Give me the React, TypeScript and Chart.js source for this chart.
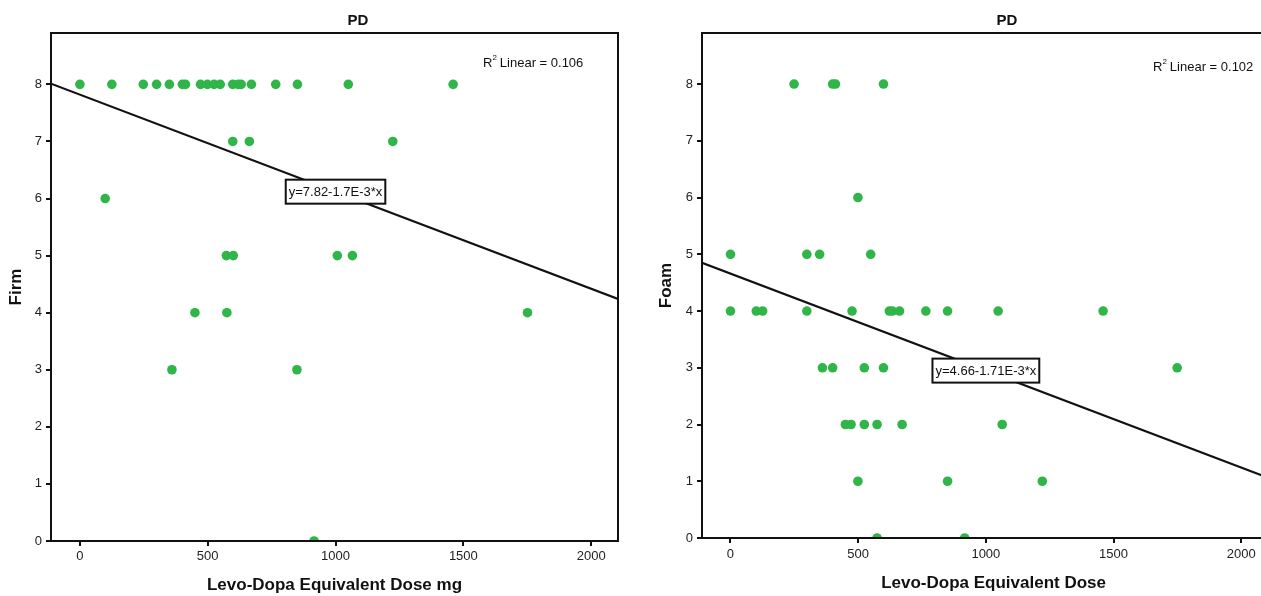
import { useEffect, useRef } from 'react';
import { Chart, registerables } from 'chart.js';

Chart.register(...registerables);

// ---- Data ----
const firmDose = [
  0, 125, 248, 300, 350, 401, 413, 472, 499, 525, 549, 598, 619, 631, 671, 766, 851, 1050, 1460,
  598, 663, 1224,
  99,
  573, 600, 1007, 1066,
  450, 575, 1751,
  360, 849,
  916,
];
const firmScore = [
  8, 8, 8, 8, 8, 8, 8, 8, 8, 8, 8, 8, 8, 8, 8, 8, 8, 8, 8,
  7, 7, 7,
  6,
  5, 5, 5, 5,
  4, 4, 4,
  3, 3,
  0,
];

const foamDose = [
  249, 400, 411, 599,
  499,
  0, 299, 349, 549,
  0, 101, 126, 299, 476, 622, 634, 662, 765, 850, 1048, 1459,
  360, 400, 524, 599, 1749,
  450, 472, 524, 574, 672, 1064,
  499, 850, 1221,
  574, 917,
];
const foamScore = [
  8, 8, 8, 8,
  6,
  5, 5, 5, 5,
  4, 4, 4, 4, 4, 4, 4, 4, 4, 4, 4, 4,
  3, 3, 3, 3, 3,
  2, 2, 2, 2, 2, 2,
  1, 1, 1,
  0, 0,
];

const xTickValues = [0, 500, 1000, 1500, 2000];
const yTickValues = [0, 1, 2, 3, 4, 5, 6, 7, 8];

const firmIntercept = 7.82;
const firmSlope = -0.0017;
const foamIntercept = 4.66;
const foamSlope = -0.00171;

const firmR2 = '0.106';
const foamR2 = '0.102';

const chartTitle = 'PD';
const firmXTitle = 'Levo-Dopa Equivalent Dose mg';
const foamXTitle = 'Levo-Dopa Equivalent Dose';
const firmYTitle = 'Firm';
const foamYTitle = 'Foam';
const firmEq = 'y=7.82-1.7E-3*x';
const foamEq = 'y=4.66-1.71E-3*x';
const eqAtX = 1000;

const FONT = '"Liberation Sans", Arial, Helvetica, sans-serif';
const GREEN = '#2fb548';
const H = 596;

type Spec = {
  canvasW: number;
  plotLeft: number;
  plotRight: number;
  plotTop: number;
  plotBottom: number;
  xMin: number;
  xMax: number;
  yMax: number;
  xs: number[];
  ys: number[];
  intercept: number;
  slope: number;
  xTitle: string;
  yTitle: string;
  yTitlePadTop: number;
  xTitlePadBottom: number;
  xTickPad: number;
  titleX: number;
  r2: string;
  r2X: number;
  r2Y: number;
  eq: string;
};

function makeChart(canvas: HTMLCanvasElement, s: Spec) {
  const deco = {
    id: 'deco',
    afterDraw(chart: any) {
      const ctx = chart.ctx as CanvasRenderingContext2D;
      const a = chart.chartArea;
      ctx.save();
      // frame
      ctx.strokeStyle = '#111';
      ctx.lineWidth = 2;
      ctx.strokeRect(a.left, a.top, a.right - a.left, a.bottom - a.top);

      // title
      ctx.fillStyle = '#111';
      ctx.font = `bold 15px ${FONT}`;
      ctx.textAlign = 'center';
      ctx.textBaseline = 'middle';
      ctx.fillText(chartTitle, s.titleX, 21);

      // R² Linear
      ctx.textAlign = 'left';
      ctx.font = `13px ${FONT}`;
      let x = s.r2X;
      ctx.fillText('R', x, s.r2Y);
      x += ctx.measureText('R').width;
      ctx.font = `8px ${FONT}`;
      ctx.fillText('2', x, s.r2Y - 5);
      x += ctx.measureText('2').width + 3;
      ctx.font = `13px ${FONT}`;
      ctx.fillText(`Linear = ${s.r2}`, x, s.r2Y);

      // equation box
      const xs = chart.scales.x;
      const ys = chart.scales.y;
      const px = xs.getPixelForValue(eqAtX);
      const py = ys.getPixelForValue(s.intercept + s.slope * eqAtX);
      ctx.font = `13px ${FONT}`;
      const w = ctx.measureText(s.eq).width + 6;
      const h = 24;
      ctx.fillStyle = '#fff';
      ctx.fillRect(px - w / 2, py - h / 2, w, h);
      ctx.strokeStyle = '#111';
      ctx.lineWidth = 2;
      ctx.strokeRect(px - w / 2, py - h / 2, w, h);
      ctx.fillStyle = '#111';
      ctx.textAlign = 'center';
      ctx.fillText(s.eq, px, py + 1);
      ctx.restore();
    },
  };

  const lineData = [
    { x: s.xMin, y: s.intercept + s.slope * s.xMin },
    { x: s.xMax, y: s.intercept + s.slope * s.xMax },
  ];

  return new Chart(canvas, {
    type: 'scatter',
    data: {
      datasets: [
        {
          type: 'line',
          data: lineData,
          borderColor: '#111',
          borderWidth: 2.2,
          pointRadius: 0,
          fill: false,
          clip: 0,
        } as any,
        {
          data: s.xs.map((v, i) => ({ x: v, y: s.ys[i] })),
          backgroundColor: GREEN,
          borderColor: GREEN,
          borderWidth: 0,
          pointRadius: 4.8,
          clip: 0,
        } as any,
      ],
    },
    options: {
      animation: false,
      responsive: false,
      devicePixelRatio: 1,
      layout: {
        padding: { left: 0, right: s.canvasW - s.plotRight, top: s.plotTop, bottom: 0 },
      },
      plugins: {
        legend: { display: false },
        tooltip: { enabled: false },
        title: { display: false },
      },
      scales: {
        x: {
          type: 'linear',
          min: s.xMin,
          max: s.xMax,
          afterBuildTicks: (sc: any) => {
            sc.ticks = xTickValues.map((v) => ({ value: v }));
          },
          afterFit: (sc: any) => {
            sc.height = H - s.plotBottom;
          },
          grid: {
            display: true,
            drawOnChartArea: false,
            drawTicks: true,
            tickLength: 5,
            color: '#111',
            lineWidth: 2,
          },
          border: { display: true, color: '#111', width: 2 },
          ticks: {
            padding: s.xTickPad,
            color: '#222',
            font: { family: FONT, size: 13 },
            maxRotation: 0,
            autoSkip: false,
            callback: (v: any) => String(v),
          },
          title: {
            display: true,
            text: s.xTitle,
            color: '#111',
            font: { family: FONT, size: 17, weight: 'bold' },
            padding: { top: 0, bottom: s.xTitlePadBottom },
          },
        },
        y: {
          type: 'linear',
          min: 0,
          max: s.yMax,
          afterBuildTicks: (sc: any) => {
            sc.ticks = yTickValues.map((v) => ({ value: v }));
          },
          afterFit: (sc: any) => {
            sc.width = s.plotLeft;
          },
          grid: {
            display: true,
            drawOnChartArea: false,
            drawTicks: true,
            tickLength: 5,
            color: '#111',
            lineWidth: 2,
          },
          border: { display: true, color: '#111', width: 2 },
          ticks: {
            padding: 4,
            color: '#222',
            font: { family: FONT, size: 13 },
            autoSkip: false,
            callback: (v: any) => String(v),
          },
          title: {
            display: true,
            text: s.yTitle,
            color: '#111',
            font: { family: FONT, size: 17, weight: 'bold' },
            padding: { top: s.yTitlePadTop, bottom: 0 },
          },
        },
      },
    } as any,
    plugins: [deco],
  });
}

export default function App() {
  const leftRef = useRef<HTMLCanvasElement>(null);
  const rightRef = useRef<HTMLCanvasElement>(null);

  useEffect(() => {
    const c1 = makeChart(leftRef.current!, {
      canvasW: 630,
      plotLeft: 51,
      plotRight: 618,
      plotTop: 33,
      plotBottom: 541,
      xMin: -113,
      xMax: 2105,
      yMax: 8.9,
      xs: firmDose,
      ys: firmScore,
      intercept: firmIntercept,
      slope: firmSlope,
      xTitle: firmXTitle,
      yTitle: firmYTitle,
      yTitlePadTop: 6,
      xTitlePadBottom: 0,
      xTickPad: 3,
      titleX: 358,
      r2: firmR2,
      r2X: 483,
      r2Y: 63,
      eq: firmEq,
    });
    const c2 = makeChart(rightRef.current!, {
      canvasW: 660,
      plotLeft: 72,
      plotRight: 658,
      plotTop: 33,
      plotBottom: 538,
      xMin: -111.5,
      xMax: 2172,
      yMax: 8.9,
      xs: foamDose,
      ys: foamScore,
      intercept: foamIntercept,
      slope: foamSlope,
      xTitle: foamXTitle,
      yTitle: foamYTitle,
      yTitlePadTop: 26,
      xTitlePadBottom: 2,
      xTickPad: 4,
      titleX: 377,
      r2: foamR2,
      r2X: 523,
      r2Y: 67,
      eq: foamEq,
    });
    return () => {
      c1.destroy();
      c2.destroy();
    };
  }, []);

  return (
    <div
      style={{
        position: 'fixed',
        left: 0,
        top: 0,
        width: 1261,
        height: H,
        overflow: 'hidden',
        background: '#fff',
      }}
    >
      <canvas
        ref={leftRef}
        width={630}
        height={H}
        style={{ position: 'absolute', left: 0, top: 0, width: 630, height: H }}
      />
      <canvas
        ref={rightRef}
        width={660}
        height={H}
        style={{ position: 'absolute', left: 630, top: 0, width: 660, height: H }}
      />
    </div>
  );
}
